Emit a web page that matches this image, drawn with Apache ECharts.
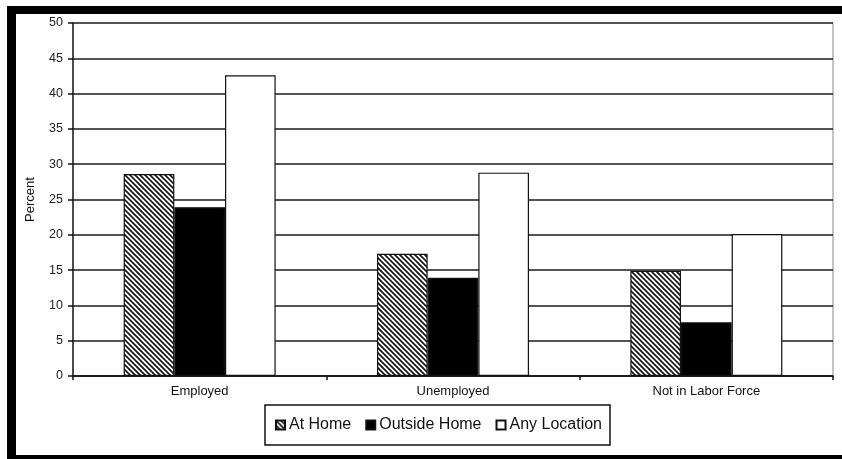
<!DOCTYPE html>
<html>
<head>
<meta charset="utf-8">
<script src="https://cdn.jsdelivr.net/npm/echarts@6/dist/echarts.min.js"></script>
<style>
  html, body { margin: 0; padding: 0; background: #fff; }
  #chart { width: 842px; height: 459px; }
</style>
</head>
<body>
<div id="chart"></div>
<script>
// Labour-force status categories and the share (percent) for each location
const categories = ['Employed', 'Unemployed', 'Not in Labor Force'];
const atHome = [28.6, 17.3, 14.9];
const outsideHome = [23.9, 13.9, 7.6];
const anyLocation = [42.6, 28.8, 20.1];
const seriesNames = ['At Home', 'Outside Home', 'Any Location'];
const yTicks = { min: 0, max: 50, step: 5 };

// Diagonal hatch fill ("\\\\") for the At Home bars; the tile wraps seamlessly
function hatchPattern(spacing, lineWidth) {
  const size = spacing * 4;
  const c = document.createElement('canvas');
  c.width = size; c.height = size;
  const ctx = c.getContext('2d');
  ctx.fillStyle = '#ffffff';
  ctx.fillRect(0, 0, size, size);
  ctx.strokeStyle = '#111';
  ctx.lineWidth = lineWidth;
  for (let k = -2 * size; k <= 2 * size; k += spacing) {
    ctx.beginPath();
    ctx.moveTo(k, 0 - size);
    ctx.lineTo(k + 3 * size, 2 * size);
    ctx.stroke();
  }
  return c;
}
const hatch = { image: hatchPattern(5, 1.6), repeat: 'repeat' };

const chart = echarts.init(document.getElementById('chart'), null, { renderer: 'canvas' });
const font = 'Liberation Sans, Arial, sans-serif';

chart.setOption({
  animation: false,
  backgroundColor: '#ffffff',
  textStyle: { fontFamily: font, color: '#111' },
  grid: { left: 73, right: 9, top: 23, bottom: 83, containLabel: false },
  legend: {
    left: 265, top: 405,
    padding: [12, 8, 12, 10],
    itemGap: 14,
    itemWidth: 9, itemHeight: 9,
    borderColor: '#111', borderWidth: 1.5,
    icon: 'rect',
    textStyle: { fontFamily: font, fontSize: 16, color: '#111', padding: [0, 0, 0, -1] },
    data: seriesNames
  },
  xAxis: {
    type: 'category',
    data: categories,
    axisLine: { lineStyle: { color: '#111', width: 1.5 } },
    axisTick: { show: true, length: 4, lineStyle: { color: '#111', width: 1.5 } },
    axisLabel: { fontFamily: font, fontSize: 13, color: '#111', margin: 9 }
  },
  yAxis: {
    type: 'value',
    min: yTicks.min, max: yTicks.max, interval: yTicks.step,
    name: 'Percent',
    nameLocation: 'middle',
    nameGap: 36,
    nameRotate: 90,
    nameTextStyle: { fontFamily: font, fontSize: 13, color: '#111' },
    axisLine: { show: true, lineStyle: { color: '#111', width: 1.5 } },
    axisTick: { show: true, length: 5, lineStyle: { color: '#111', width: 1.5 } },
    axisLabel: { fontFamily: font, fontSize: 12.5, color: '#222', margin: 10 },
    splitLine: { lineStyle: { color: '#1a1a1a', width: 1.5 } }
  },
  series: [
    {
      name: seriesNames[0], type: 'bar', data: atHome,
      barGap: '0%', barCategoryGap: '40%',
      itemStyle: { color: hatch, borderColor: '#111', borderWidth: 1.2 }
    },
    {
      name: seriesNames[1], type: 'bar', data: outsideHome,
      itemStyle: { color: '#000', borderColor: '#111', borderWidth: 1.2 }
    },
    {
      name: seriesNames[2], type: 'bar', data: anyLocation,
      itemStyle: { color: '#fff', borderColor: '#111', borderWidth: 1.2 }
    }
  ],
  graphic: [
    // thin frame at the right of the plot
    { type: 'line', shape: { x1: 833, y1: 23, x2: 833, y2: 376 }, style: { stroke: '#888', lineWidth: 1 }, silent: true },
    // heavy outer frame: left, top, bottom
    { type: 'rect', shape: { x: 7, y: 6, width: 9, height: 453 }, style: { fill: '#000' }, silent: true },
    { type: 'rect', shape: { x: 7, y: 6, width: 835, height: 8 }, style: { fill: '#000' }, silent: true },
    { type: 'rect', shape: { x: 7, y: 455, width: 835, height: 4 }, style: { fill: '#000' }, silent: true }
  ]
});
</script>
</body>
</html>
